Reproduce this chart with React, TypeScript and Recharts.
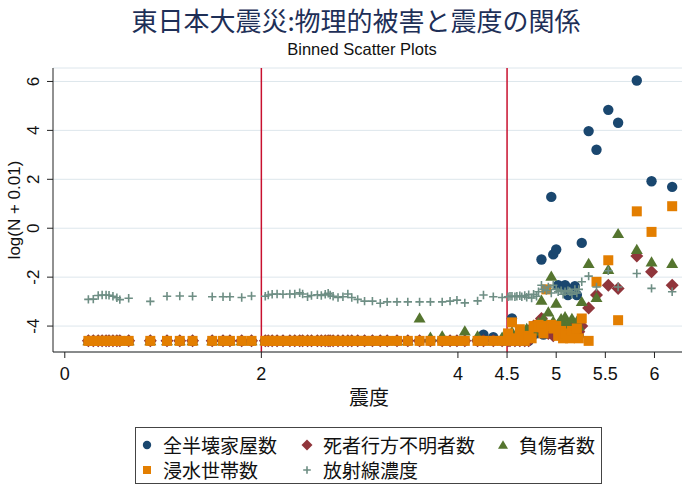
import { ScatterChart, Scatter, XAxis, YAxis, CartesianGrid, ReferenceLine } from "recharts";

const Z = -4.605; // log(0 + 0.01), bins with no damage

// bin centres (震度)
const bins = [
  0.24, 0.29, 0.34, 0.38, 0.42, 0.45, 0.49, 0.53, 0.56, 0.65, 0.87, 1.04, 1.17, 1.3, 1.5, 1.61, 1.68, 1.8, 1.9,
  2.04, 2.07, 2.11, 2.16, 2.22, 2.29, 2.34, 2.39, 2.42, 2.47, 2.51, 2.57, 2.61, 2.65, 2.68, 2.7, 2.73, 2.78, 2.83,
  2.88, 2.92, 2.98, 3.05, 3.13, 3.21, 3.28, 3.38, 3.49, 3.61, 3.72, 3.84, 3.92, 3.99, 4.07, 4.2, 4.26, 4.36, 4.45,
  4.51, 4.53, 4.55, 4.58, 4.6, 4.63, 4.65, 4.68, 4.7, 4.72, 4.75, 4.77, 4.8, 4.82, 4.85, 4.87, 4.9, 4.92, 4.95,
  4.97, 5.0, 5.02, 5.05, 5.07, 5.09, 5.12, 5.14, 5.16, 5.19, 5.21, 5.23, 5.26, 5.33, 5.41, 5.53, 5.63, 5.82,
  5.97, 6.18,
];

// 全半壊家屋数
const houses = [
  Z, Z, Z, Z, Z, Z, Z, Z, Z, Z, Z, Z, Z, Z, Z, Z, Z, Z, Z,
  Z, Z, Z, Z, Z, Z, Z, Z, Z, Z, Z, Z, Z, Z, Z, Z, Z, Z, Z,
  Z, Z, Z, Z, Z, Z, Z, Z, Z, Z, Z, Z, Z, Z, Z, Z, -4.35, -4.45, Z,
  Z, -4.5, -3.69, Z, -4.45, Z, -4.5, Z, -4.4, Z, -4.45, -4.2, -4.3, -4.1, -1.28, -4.35, -4.2, -4.0, 1.28,
  -1.07, -0.87, -2.33, -4.1, -4.0, -2.33, -2.73, -4.2, -4.3, -2.37, -2.73, -4.4, -0.6, 3.97, 3.21, 4.84, 4.31, 6.04,
  1.92, 1.69,
];

// 死者行方不明者数
const deaths = [
  Z, Z, Z, Z, Z, Z, Z, Z, Z, Z, Z, Z, Z, Z, Z, Z, Z, Z, Z,
  Z, Z, Z, Z, Z, Z, Z, Z, Z, Z, Z, Z, Z, Z, Z, Z, Z, Z, Z,
  Z, Z, Z, Z, Z, Z, Z, Z, Z, Z, Z, Z, Z, Z, Z, Z, Z, Z, Z,
  Z, Z, -4.45, Z, -4.4, Z, -4.3, Z, -4.2, Z, -4.3, -4.0, -4.1, -3.9, -3.69, -4.2, -4.1, -4.3, -4.0,
  -4.4, -4.2, -4.3, -4.4, -4.1, -4.3, -4.2, -4.4, -4.0, -4.3, -4.3, -4.23, -4.0, -3.26, -2.73, -2.33, -2.46, -1.14,
  -1.78, -2.33,
];

// 負傷者数
const injured = [
  Z, Z, Z, Z, Z, Z, Z, Z, Z, Z, Z, Z, Z, Z, Z, Z, Z, Z, Z,
  Z, Z, Z, Z, Z, Z, Z, Z, Z, Z, Z, Z, Z, Z, Z, Z, Z, Z, Z,
  Z, Z, Z, Z, Z, Z, Z, Z, Z, -3.67, -4.45, -4.4, Z, Z, -4.2, -4.4, Z, Z, -4.45,
  -4.4, Z, -4.23, Z, -4.4, -4.3, Z, -4.35, -4.1, -4.3, -4.2, -4.2, -4.0, -3.85, -2.94, -3.7, -3.9, -3.42, -1.96,
  -3.8, -3.07, -3.9, -3.7, -3.95, -3.62, -3.9, -4.1, -3.69, -3.95, -3.8, -4.0, -3.0, -1.44, -2.83, -1.69, -0.22, -0.87,
  -1.38, -1.44,
];

// 浸水世帯数
const flooded = [
  Z, Z, Z, Z, Z, Z, Z, Z, Z, Z, Z, Z, Z, Z, Z, Z, Z, Z, Z,
  Z, Z, Z, Z, Z, Z, Z, Z, Z, Z, Z, Z, Z, Z, Z, Z, Z, Z, Z,
  Z, Z, Z, Z, Z, Z, Z, Z, Z, Z, Z, Z, Z, Z, Z, Z, Z, Z, Z,
  -4.3, Z, -3.85, -4.5, Z, -4.13, -4.5, Z, -4.45, -4.4, -4.5, -4.0, -4.05, -3.95, -4.0, -4.3, -2.5, -4.0, -3.95,
  -4.1, -4.0, -4.4, -4.2, -4.5, -4.3, -4.4, -4.5, -4.2, -4.4, -4.1, -4.5, -3.69, Z, -2.19, -1.31, -3.76, 0.69,
  -0.15, 0.9,
];

// 放射線濃度
const radiation = [
  -2.91, -2.9, -2.75, -2.73, -2.73, -2.74, -2.78, -2.84, -2.92, -2.86, -2.99, -2.78, -2.77, -2.78, -2.8, -2.8, -2.8, -2.83, -2.77,
  -2.78, -2.73, -2.7, -2.69, -2.7, -2.69, -2.69, -2.64, -2.69, -2.8, -2.75, -2.72, -2.75, -2.7, -2.66, -2.73, -2.78, -2.83, -2.8,
  -2.69, -2.83, -2.91, -2.98, -2.98, -3.07, -3.01, -3.01, -3.01, -3.01, -3.01, -3.01, -2.98, -2.94, -3.05, -2.97, -2.73, -2.8, -2.83,
  -2.8, -2.78, -2.78, -2.8, -2.78, -2.76, -2.8, -2.75, -2.82, -2.72, -2.85, -2.7, -2.78, -2.6, -2.33, -2.5, -2.55, -2.4, -2.65,
  -2.33, -2.5, -2.6, -2.55, -2.7, -2.6, -2.55, -2.6, -2.7, -2.5, -2.65, -2.5, -2.19, -1.96, -2.4, -1.74, -2.4, -1.85,
  -2.46, -2.6,
];

const xTicks = [0, 2, 4, 4.5, 5, 5.5, 6];
const yTicks = [-4, -2, 0, 2, 4, 6];
const cutoffs = [2, 4.5];

const NAVY = "#1a476f";
const MAROON = "#90353b";
const GREEN = "#55752f";
const ORANGE = "#e37e00";
const TEAL = "#6e8e84";

const LATIN = '"Liberation Sans", Arial, sans-serif';
const CJK = '"Noto Sans CJK JP", "Noto Sans", sans-serif';

const toPoints = (ys: number[]) => bins.map((x, i) => ({ x, y: ys[i] }));

const circle = (s = 5.2) => (p: any) => <circle cx={p.cx} cy={p.cy} r={s} fill={NAVY} />;
const diamond = (s = 6.5) => (p: any) => (
  <polygon
    points={`${p.cx},${p.cy - s} ${p.cx + s},${p.cy} ${p.cx},${p.cy + s} ${p.cx - s},${p.cy}`}
    fill={MAROON}
  />
);
const triangle = (s = 6) => (p: any) => (
  <polygon
    points={`${p.cx},${p.cy - s * 0.95} ${p.cx + s},${p.cy + s * 0.75} ${p.cx - s},${p.cy + s * 0.75}`}
    fill={GREEN}
  />
);
const square = (s = 5) => (p: any) => (
  <rect x={p.cx - s} y={p.cy - s} width={s * 2} height={s * 2} fill={ORANGE} />
);
const cross = (s = 4.2) => (p: any) => (
  <path
    d={`M${p.cx - s},${p.cy}H${p.cx + s}M${p.cx},${p.cy - s}V${p.cy + s}`}
    stroke={TEAL}
    strokeWidth={1.6}
    fill="none"
  />
);

const series = [
  { name: "全半壊家屋数", data: houses, shape: circle, legend: circle(4.2) },
  { name: "死者行方不明者数", data: deaths, shape: diamond, legend: diamond(5.5) },
  { name: "負傷者数", data: injured, shape: triangle, legend: triangle(5) },
  { name: "浸水世帯数", data: flooded, shape: square, legend: square(4) },
  { name: "放射線濃度", data: radiation, shape: cross, legend: cross(3.8) },
];

const XTick = (p: any) => (
  <text x={p.x} y={p.y} dy={20} textAnchor="middle" fontSize={18} fontFamily={LATIN} fill="#111">
    {p.payload.value}
  </text>
);

const YTick = (p: any) => (
  <g transform={`translate(${p.x - 6},${p.y})`}>
    <text transform="rotate(-90)" textAnchor="middle" fontSize={17} fontFamily={LATIN} fill="#111">
      {p.payload.value}
    </text>
  </g>
);

// legend slots: [left inside box, top inside box]
const legendPos = [
  [6, 6],
  [166, 6],
  [362, 6],
  [6, 31],
  [166, 31],
];

export default function App() {
  return (
    <div style={{ position: "absolute", left: 0, top: 0, width: 688, height: 490, background: "#fff" }}>
      <div
        style={{
          position: "absolute", left: 56, top: 4, width: 600, textAlign: "center",
          fontFamily: CJK, fontSize: 26, lineHeight: "32px", color: "#1e2f57",
        }}
      >
        東日本大震災:物理的被害と震度の関係
      </div>
      <div
        style={{
          position: "absolute", left: 162, top: 39, width: 400, textAlign: "center",
          fontFamily: LATIN, fontSize: 16.5, lineHeight: "20px", color: "#111",
        }}
      >
        Binned Scatter Plots
      </div>

      <ScatterChart width={688} height={490} margin={{ top: 68, right: 6, bottom: 108, left: 0 }}>
        <CartesianGrid horizontal vertical={false} stroke="#dde6ec" strokeWidth={1} />
        <XAxis
          type="number" dataKey="x" domain={[-0.12, 6.28]} ticks={xTicks} allowDataOverflow
          height={30} tick={<XTick />} tickSize={6} stroke="#222" interval={0}
        />
        <YAxis
          type="number" dataKey="y" domain={[-5.06, 6.55]} ticks={yTicks} allowDataOverflow
          width={53} tick={<YTick />} tickSize={6} stroke="#222" interval={0}
        />
        {series.map((s) => (
          <Scatter key={s.name} name={s.name} data={toPoints(s.data)} shape={s.shape()} isAnimationActive={false} />
        ))}
        {cutoffs.map((c) => (
          <ReferenceLine key={c} x={c} stroke="#c8102e" strokeWidth={1.5} />
        ))}
      </ScatterChart>

      <svg width={688} height={490} style={{ position: "absolute", left: 0, top: 0, pointerEvents: "none" }}>
        <text
          transform="translate(20,210) rotate(-90)" textAnchor="middle"
          fontSize={17} fontFamily={LATIN} fill="#111"
        >
          log(N + 0.01)
        </text>
        <text x={369} y={405} textAnchor="middle" fontSize={20} fontFamily={CJK} fill="#111">
          震度
        </text>
      </svg>

      <div
        style={{
          position: "absolute", left: 135, top: 427, width: 467, height: 57,
          border: "1px solid #444", boxSizing: "border-box",
        }}
      >
        {series.map((s, i) => (
          <div
            key={s.name}
            style={{
              position: "absolute", left: legendPos[i][0] - 1, top: legendPos[i][1] - 1, height: 24,
              display: "flex", alignItems: "center", whiteSpace: "nowrap",
            }}
          >
            <svg width={12} height={12}>{s.legend({ cx: 6, cy: 6 })}</svg>
            <span style={{ marginLeft: 10, fontFamily: CJK, fontSize: 19, lineHeight: "24px", color: "#111" }}>
              {s.name}
            </span>
          </div>
        ))}
      </div>
    </div>
  );
}
